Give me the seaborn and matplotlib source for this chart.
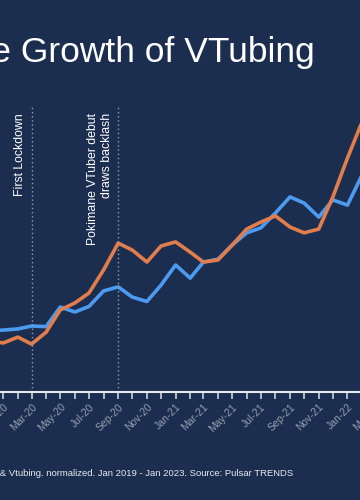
import numpy as np
import pandas as pd
import matplotlib
matplotlib.use('Agg')
import matplotlib.pyplot as plt
import matplotlib.dates as mdates
import seaborn as sns

# monthly, normalized interest (visible window of the Jan 2019 - Jan 2023 chart)
months = pd.date_range('2019-12-01', '2022-03-01', freq='MS')
vtuber = [21.0, 21.2, 21.6, 22.6, 22.4, 29.1, 27.4, 29.3, 34.6, 36.0, 32.5, 31.0, 36.6,
          43.5, 39.0, 44.5, 45.5, 50.3, 54.5, 56.2, 61.3, 66.8, 64.7, 59.9, 65.8,
          64.0, 74.3, 82.0]
vtubing = [17.5, 16.8, 18.8, 16.4, 20.5, 28.1, 30.5, 33.9, 41.8, 51.0, 48.6, 44.5, 50.0,
           51.4, 47.9, 44.5, 45.2, 50.3, 55.8, 58.2, 60.3, 56.5, 54.5, 55.8, 66.8,
           80.1, 92.5, 90.0]

events = ['2020-03-01', '2020-09-01']
event_labels = ['First Lockdown', 'Pokimane VTuber debut\ndraws backlash']

bg = '#1c2e4f'
blue = '#4d9bf0'
orange = '#e27d4c'
grey = '#939cae'

df = pd.DataFrame({'month': list(months) * 2,
                   'value': vtuber + vtubing,
                   'term': ['VTuber'] * len(months) + ['Vtubing'] * len(months)})

sns.set_style('dark', {'axes.facecolor': bg, 'figure.facecolor': bg})
plt.rcParams['font.family'] = ['Liberation Sans', 'DejaVu Sans']

fig = plt.figure(figsize=(3.6, 5), dpi=100)
fig.patch.set_facecolor(bg)

x0 = mdates.date2num(pd.Timestamp('2019-01-01'))
x1 = mdates.date2num(pd.Timestamp('2023-01-01'))
xj = mdates.date2num(pd.Timestamp('2020-01-01'))
ppd = 14.33 * 12 / 365.25  # pixels per day
left_px = 3.3 - (xj - x0) * ppd
width_px = (x1 - x0) * ppd
ax = fig.add_axes([left_px / 360, 0.216, width_px / 360, 0.584])
ax.set_facecolor(bg)

sns.lineplot(data=df, x='month', y='value', hue='term', palette=[blue, orange],
             linewidth=2.6, legend=False, ax=ax,
             solid_joinstyle='round', solid_capstyle='round')

for d, lab in zip(events, event_labels):
    xd = pd.Timestamp(d)
    ax.vlines(xd, 0, 97.6, colors=grey, linestyles=(0, (1, 2)), linewidth=1)
    ax.annotate(lab, xy=(xd, 95.5), xytext=(-4, 0), textcoords='offset points',
                rotation=90, ha='right', va='top', multialignment='right',
                color='white', fontsize=8.8)

ax.set_xlim(pd.Timestamp('2019-01-01'), pd.Timestamp('2023-01-01'))
ax.set_ylim(0, 100)
ax.xaxis.set_major_locator(mdates.MonthLocator(bymonth=[1, 3, 5, 7, 9, 11]))
ax.xaxis.set_minor_locator(mdates.MonthLocator())
ax.xaxis.set_major_formatter(mdates.DateFormatter('%b-%y'))
ax.tick_params(axis='x', which='both', direction='out', length=5, width=1.1,
               color='#dde2ea', bottom=True)
ax.tick_params(axis='x', which='major', labelsize=7.5, labelcolor=grey, pad=2)
for t in ax.get_xticklabels():
    t.set_rotation(45)
    t.set_ha('right')
    t.set_rotation_mode('anchor')
ax.set_yticks([])
ax.set_xlabel('')
ax.set_ylabel('')
for s in ['top', 'left', 'right']:
    ax.spines[s].set_visible(False)
ax.spines['bottom'].set_color('#e6e9ef')
ax.spines['bottom'].set_linewidth(1.5)
ax.grid(False)

fig.text(315 / 360, 1 - 62 / 500, 'The Growth of VTubing', ha='right', va='baseline',
         color='white', fontsize=25.5)
fig.text(293 / 360, 1 - 476 / 500,
         'Search interest for VTuber & Vtubing. normalized. Jan 2019 - Jan 2023. Source: Pulsar TRENDS',
         ha='right', va='baseline', color='#e8ebf0', fontsize=6.8)

fig.savefig('out.png', dpi=100, facecolor=bg)
